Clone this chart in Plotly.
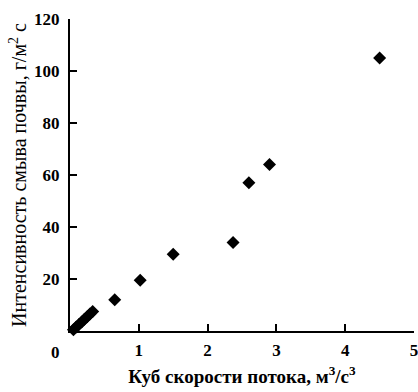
import plotly.graph_objects as go

# data
flow_cube = [0.05, 0.09, 0.13, 0.17, 0.21, 0.25, 0.29, 0.33, 0.65, 1.02, 1.5, 2.37, 2.6, 2.9, 4.5]
erosion = [0.5, 1.5, 2.5, 3.5, 4.5, 5.5, 6.5, 7.5, 12, 19.5, 29.5, 34, 57, 64, 105]
x_ticks = [1, 2, 3, 4, 5]
y_ticks = [20, 40, 60, 80, 100, 120]

font_family = "Liberation Serif, Times New Roman, serif"

fig = go.Figure()
fig.add_trace(go.Scatter(
    x=flow_cube, y=erosion, mode="markers",
    marker=dict(symbol="diamond", size=10, color="black"),
    showlegend=False, cliponaxis=False,
))

fig.update_layout(
    width=418, height=392,
    margin=dict(l=70, r=4, t=19, b=61),
    paper_bgcolor="white", plot_bgcolor="white",
    font=dict(family=font_family, color="black"),
    xaxis=dict(
        range=[0, 5], tickvals=x_ticks, ticktext=[str(v) for v in x_ticks],
        ticks="inside", ticklen=7, tickwidth=2, tickcolor="black",
        showline=True, linecolor="black", linewidth=2,
        showgrid=False, zeroline=False, ticklabeloverflow="allow",
        ticklabelstandoff=3, automargin=False,
        tickfont=dict(size=17, family=font_family, weight="bold"),
        title=dict(text="Куб скорости потока, м<sup>3</sup>/с<sup>3</sup>",
                   font=dict(size=19, family=font_family, weight="bold"), standoff=10),
    ),
    yaxis=dict(
        range=[0, 120], tickvals=y_ticks, ticktext=[str(v) for v in y_ticks],
        ticks="inside", ticklen=7, tickwidth=2, tickcolor="black",
        showline=True, linecolor="black", linewidth=2,
        showgrid=False, zeroline=False, ticklabelstandoff=5,
        automargin=False,
        tickfont=dict(size=17, family=font_family, weight="bold"),
        title=dict(text="Интенсивность смыва почвы, г/м<sup>2</sup> с",
                   font=dict(size=20, family=font_family), standoff=2),
    ),
    annotations=[dict(
        x=0, y=0, xref="x", yref="y", text="0", showarrow=False,
        xshift=-15, yshift=-21,
        font=dict(size=17, family=font_family, weight="bold"),
    )],
)

fig.write_html(
    "out.html",
    config={"displayModeBar": False},
    post_script="document.body.style.margin='0';document.body.style.overflow='hidden';",
)
